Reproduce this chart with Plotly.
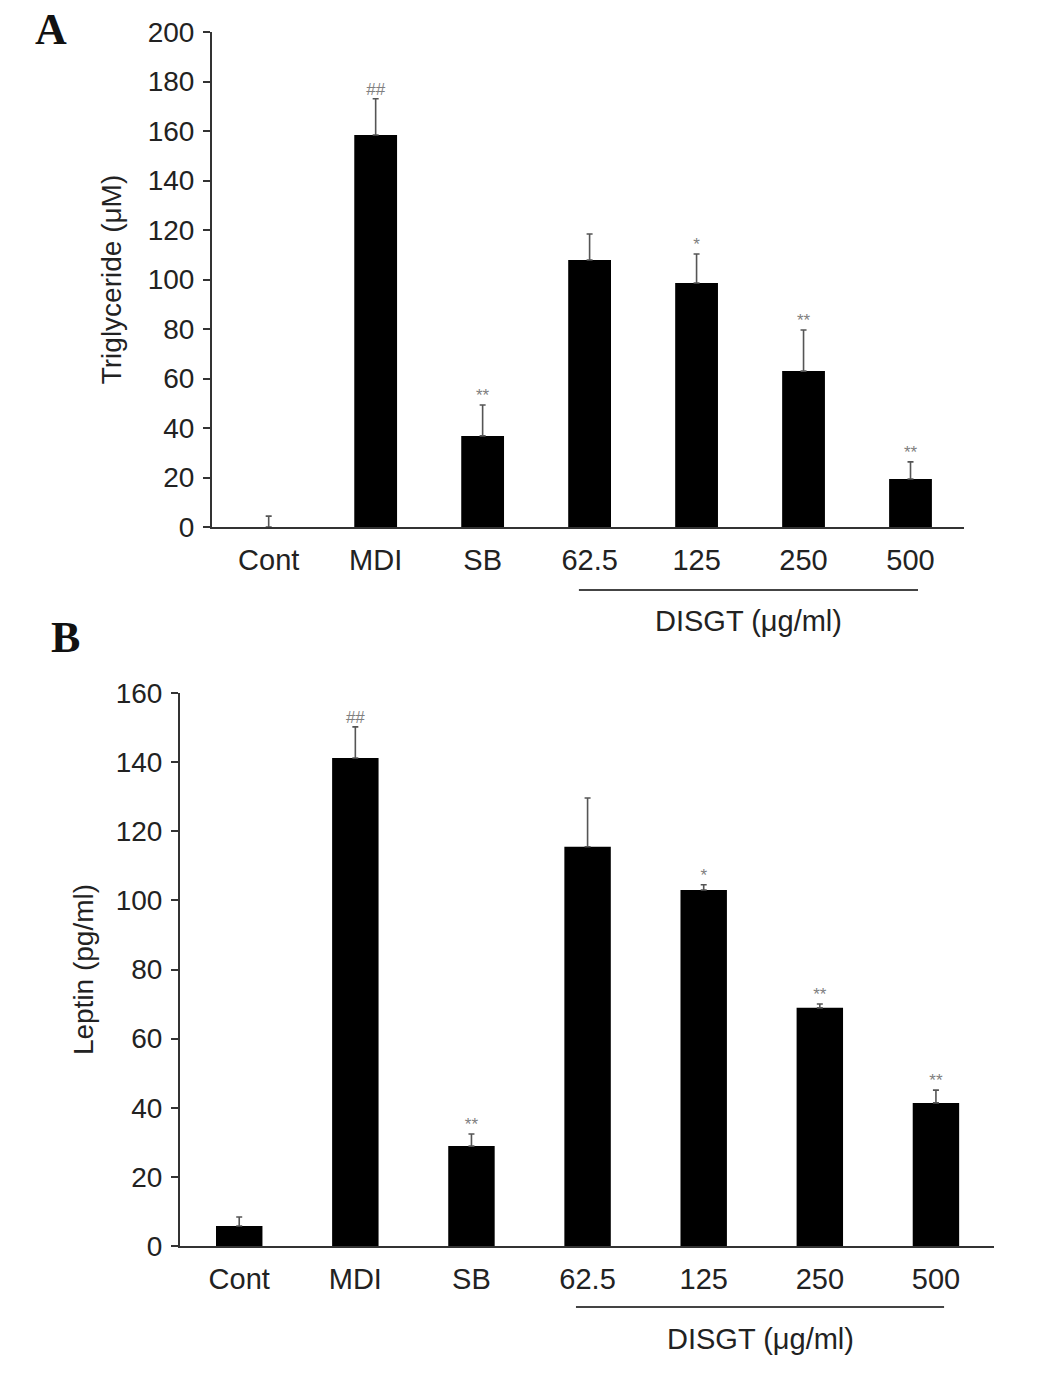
import plotly.graph_objects as go

# ---- data ----
categories = ["Cont", "MDI", "SB", "62.5", "125", "250", "500"]

tg_values = [0, 158.4, 36.8, 107.9, 98.6, 63.0, 19.4]
tg_errors = [4.4, 14.6, 12.5, 10.5, 11.7, 16.6, 6.9]
tg_marks = ["", "##", "**", "", "*", "**", "**"]

leptin_values = [5.8, 141.2, 28.9, 115.5, 103.0, 68.9, 41.4]
leptin_errors = [2.6, 9.0, 3.5, 14.1, 1.5, 1.1, 3.7]
leptin_marks = ["", "##", "**", "", "*", "**", "**"]

tg_ticks = [0, 20, 40, 60, 80, 100, 120, 140, 160, 180, 200]
leptin_ticks = [0, 20, 40, 60, 80, 100, 120, 140, 160]

group_first = "62.5"
group_last = "500"
group_label = "DISGT (μg/ml)"

FONT = "Arial, Liberation Sans, sans-serif"
AX = "#333333"
TXT = "#222222"
W, H = 1063, 1395

def px(x):
    return x / W

def py(y):
    return 1 - y / H

fig = go.Figure()

idx = list(range(len(categories)))

def add_panel(values, errors, marks, xa, ya):
    fig.add_trace(go.Bar(
        x=idx, y=values, width=0.4,
        marker=dict(color="black", line=dict(width=0)),
        error_y=dict(type="data", array=errors, arrayminus=[0] * len(errors),
                     symmetric=False, color="#555555", thickness=1.6, width=3),
        xaxis=xa, yaxis=ya, showlegend=False, hoverinfo="skip",
    ))
    fig.add_trace(go.Scatter(
        x=idx, y=[v + e for v, e in zip(values, errors)],
        mode="text", text=marks, textposition="top center",
        textfont=dict(family=FONT, size=17, color="#808080"),
        xaxis=xa, yaxis=ya, showlegend=False, hoverinfo="skip",
        cliponaxis=False,
    ))

add_panel(tg_values, tg_errors, tg_marks, "x", "y")
add_panel(leptin_values, leptin_errors, leptin_marks, "x2", "y2")

xcommon = dict(
    tickmode="array", tickvals=idx, ticktext=categories,
    showline=True, linecolor=AX, linewidth=2, ticks="",
    showgrid=False, zeroline=False, automargin=False,
    ticklabelstandoff=6,
    tickfont=dict(family=FONT, size=29, color=TXT),
    fixedrange=True,
)
ycommon = dict(
    showline=True, linecolor=AX, linewidth=2, ticks="outside",
    ticklen=7, tickwidth=2, tickcolor=AX,
    showgrid=False, zeroline=False, automargin=False,
    ticklabelstandoff=3,
    tickfont=dict(family=FONT, size=28, color=TXT),
    title_font=dict(family=FONT, size=28, color=TXT),
)

fig.update_layout(
    width=W, height=H,
    margin=dict(l=0, r=0, t=0, b=0, autoexpand=False),
    paper_bgcolor="white", plot_bgcolor="white",
    xaxis=dict(xcommon, domain=[px(212), px(964)], range=[-0.53, 6.5], anchor="y"),
    yaxis=dict(ycommon, domain=[py(527), py(32)], range=[0, 200], tickvals=tg_ticks,
               anchor="x", title=dict(text="Triglyceride (μM)", standoff=18)),
    xaxis2=dict(xcommon, domain=[px(180), px(994)], range=[-0.51, 6.5], anchor="y2"),
    yaxis2=dict(ycommon, domain=[py(1246), py(693)], range=[0, 160], tickvals=leptin_ticks,
                anchor="x2", title=dict(text="Leptin (pg/ml)", standoff=14)),
)

g0 = categories.index(group_first) - 0.1
g1 = categories.index(group_last) + 0.07

# group bracket lines + labels
for xr, yline, ylab in [("x", 590, 621), ("x2", 1307, 1339)]:
    fig.add_shape(type="line", xref=xr, yref="paper", x0=g0, x1=g1,
                  y0=py(yline), y1=py(yline), line=dict(color="#444444", width=2))
    fig.add_annotation(xref=xr, yref="paper", x=(g0 + g1) / 2, y=py(ylab),
                       text=group_label, showarrow=False, xanchor="center", yanchor="middle",
                       font=dict(family=FONT, size=29, color=TXT))

# panel letters
for letter, x, y in [("A", 51, 30), ("B", 65, 637)]:
    fig.add_annotation(xref="paper", yref="paper", x=px(x), y=py(y), text="<b>%s</b>" % letter,
                       showarrow=False, xanchor="center", yanchor="middle",
                       font=dict(family="Times New Roman, Liberation Serif, serif", size=44, color="#111111"))

fig.write_html("out.html",
               config={"displayModeBar": False, "staticPlot": True},
               post_script="document.body.style.margin='0';document.body.style.overflow='hidden';")
